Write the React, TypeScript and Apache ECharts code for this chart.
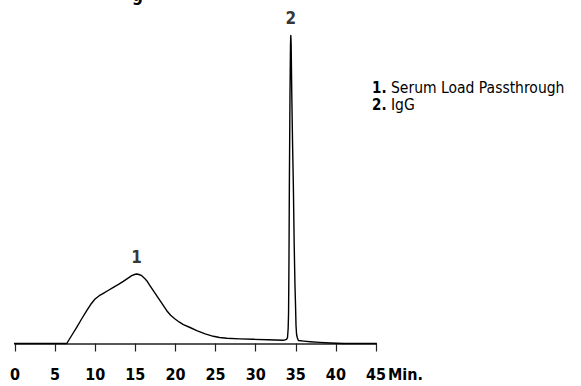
import React, { useEffect, useRef } from "react";
import * as echarts from "echarts";

const times = [-0.3, 6.45, 7.1, 7.69, 8.3, 8.94, 9.45, 9.98, 10.5, 11.01, 11.6, 12.26, 12.9, 13.5, 14.05, 14.55, 14.9, 15.17, 15.45, 15.8, 16.1, 16.42, 16.8, 17.24, 18.08, 18.92, 19.4, 19.95, 20.5, 20.99, 21.82, 22.66, 23.7, 24.73, 25.5, 26.4, 28.0, 29.7, 31.5, 33.45, 33.85, 33.97, 34.05, 34.1, 34.15, 34.2, 34.28, 34.34, 34.38, 34.42, 34.5, 34.6, 34.7, 34.8, 34.9, 34.97, 35.03, 35.1, 35.2, 35.33, 36.0, 36.8, 38.0, 39.3, 41.0, 45.1];
const signal = [0, 0, 8.5, 16.2, 24.5, 32.8, 39.2, 44.5, 47.8, 50.2, 53.0, 56.2, 59.2, 62.2, 65.2, 67.8, 69.0, 69.5, 69.0, 67.8, 65.6, 62.8, 58.2, 52.8, 42.8, 32.8, 28.2, 24.5, 21.3, 18.8, 16.0, 12.8, 9.6, 7.2, 6.0, 5.2, 4.6, 4.2, 3.7, 3.2, 4.2, 6, 15, 30, 80, 157, 250, 298, 308, 300, 250, 200, 157, 100, 58, 38, 18, 9, 5.5, 3.0, 2.4, 1.8, 1.1, 0.5, 0, 0];
const tickLabels = ["0", "5", "10", "15", "20", "25", "30", "35", "40", "45"];
const peakLabels = ["1", "2"];
const peakTimes = [15.17, 34.38];
const peakValues = [69.5, 308];
const legendNames = ["Serum Load Passthrough", "IgG"];

const FONT = "'DejaVu Sans Condensed', 'Liberation Sans Narrow', 'Liberation Sans', Arial, sans-serif";

export default function App() {
  const ref = useRef<HTMLDivElement>(null);
  useEffect(() => {
    if (!ref.current) return;
    const chart = echarts.init(ref.current, null, { renderer: "svg" });
    const data = times.map((t, i) => [t, signal[i]]);
    const legendTexts: any[] = [];
    legendNames.forEach((n, i) => {
      const y = 87.5 + i * 17;
      legendTexts.push({
        type: "text",
        x: 372,
        y,
        style: {
          text: `${i + 1}.`,
          verticalAlign: "middle",
          lineHeight: 15,
          fill: "#000",
          font: `bold 15px ${FONT}`,
        },
      });
      legendTexts.push({
        type: "text",
        x: 391,
        y,
        style: {
          text: n,
          verticalAlign: "middle",
          lineHeight: 15,
          fill: "#000",
          font: `15.5px ${FONT}`,
        },
      });
    });
    chart.setOption({
      animation: false,
      grid: { left: 15, right: 205, top: 35, bottom: 33 },
      xAxis: {
        type: "value",
        min: 0,
        max: 45,
        interval: 5,
        axisLine: { show: true, lineStyle: { color: "#222", width: 1.5 } },
        axisTick: { show: true, inside: false, length: 8, lineStyle: { color: "#222", width: 1.2 } },
        splitLine: { show: false },
        axisLabel: {
          color: "#000",
          fontSize: 16,
          fontWeight: "bold",
          fontFamily: FONT,
          margin: 13,
          formatter: (v: number) => tickLabels[Math.round(v / 5)] ?? "",
        },
      },
      yAxis: {
        type: "value",
        min: -9.5,
        max: 308.5,
        show: false,
      },
      series: [
        {
          type: "line",
          data,
          showSymbol: false,
          symbol: "none",
          smooth: false,
          clip: false,
          lineStyle: { color: "#000", width: 1.4, join: "round" },
        },
        {
          type: "scatter",
          data: peakTimes.map((t, i) => [t, peakValues[i]]),
          symbolSize: 0,
          label: {
            show: true,
            position: "top",
            distance: 9,
            color: "#000",
            fontSize: 17,
            fontWeight: "bold",
            fontFamily: FONT,
            formatter: (p: any) => peakLabels[p.dataIndex],
          },
        },
      ],
      graphic: [
        {
          type: "text",
          left: 388,
          top: 366,
          style: { text: "Min.", fill: "#000", font: `bold 16px ${FONT}` },
        },
        {
          type: "text",
          x: 132,
          y: -14,
          style: { text: "g", fill: "#000", font: `bold 17px ${FONT}` },
        },
        ...legendTexts,
      ],
    });
    return () => chart.dispose();
  }, []);
  return <div ref={ref} style={{ width: 581, height: 386, position: "absolute", left: 0, top: 0 }} />;
}
